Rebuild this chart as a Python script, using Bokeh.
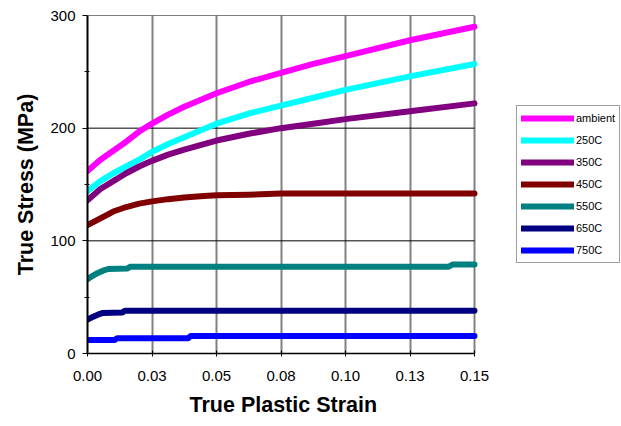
from bokeh.plotting import figure
from bokeh.models import Range1d, FixedTicker, Legend, LegendItem, Title
from bokeh.embed import file_html
from bokeh.resources import INLINE

# ---- data ----
x_ticks = [0.0, 0.025, 0.05, 0.075, 0.1, 0.125, 0.15]
x_tick_labels = ["0.00", "0.03", "0.05", "0.08", "0.10", "0.13", "0.15"]
y_ticks = [0, 100, 200, 300]
y_minor_ticks = [50, 150, 250]

strain_hi = [0.0, 0.005, 0.01, 0.015, 0.02, 0.025, 0.03125, 0.0375, 0.04375, 0.05, 0.0625, 0.075, 0.0875, 0.1, 0.125, 0.15]
stress_ambient = [162, 172, 180, 188, 197, 204, 212, 219, 225, 231, 241, 249, 257, 264, 278, 290]
stress_250 = [144, 153, 160, 166, 172, 179, 186, 192, 198, 204, 213, 220, 227, 234, 246, 257]
stress_350 = [136, 146, 153, 160, 166, 171, 176.5, 181, 185, 189, 195, 200, 204, 208, 215, 222]
stress_450 = [114, 120, 126, 130, 133, 135, 137, 138.5, 139.5, 140.5, 141, 142, 142, 142, 142, 142]

strain_550 = [0.0, 0.002, 0.004, 0.006, 0.008, 0.0155, 0.0165, 0.14, 0.1415, 0.15]
stress_550 = [66, 69, 71.5, 73.5, 75, 75.5, 77, 77, 79, 79]

strain_650 = [0.0, 0.002, 0.004, 0.006, 0.0135, 0.0145, 0.15]
stress_650 = [30, 32.5, 34.5, 36, 36.5, 38, 38]

strain_750 = [0.0, 0.0105, 0.0115, 0.039, 0.040, 0.15]
stress_750 = [12, 12, 13.5, 13.5, 15.5, 15.5]

series_labels = ["ambient", "250C", "350C", "450C", "550C", "650C", "750C"]
series_colors = ["#FF00FF", "#00FFFF", "#800080", "#800000", "#008080", "#000080", "#0000FF"]

series_x = [strain_hi, strain_hi, strain_hi, strain_hi, strain_550, strain_650, strain_750]
series_y = [stress_ambient, stress_250, stress_350, stress_450, stress_550, stress_650, stress_750]

x_label = "True Plastic Strain"
y_label = "True Stress (MPa)"

FONT = "Liberation Sans"

# layout: the frame extends to the right so the legend can sit beside the data area
FRAME_W = 533      # px, frame width
DATA_W = 387       # px, width occupied by the data range 0 .. 0.15
x_end = x_ticks[-1] * FRAME_W / DATA_W

p = figure(width=621, height=426, output_backend="svg", toolbar_location=None,
           x_range=Range1d(0, x_end), y_range=Range1d(0, 300),
           min_border_left=87, min_border_right=1, min_border_top=15, min_border_bottom=73)
p.outline_line_color = None
p.background_fill_color = "white"
p.border_fill_color = "white"

# horizontal gridlines, limited to the data area
p.segment(x0=x_ticks[0], x1=x_ticks[-1], y0=y_ticks, y1=y_ticks, line_color="black", line_width=1)

items = []
for xs, ys, lab, col in zip(series_x, series_y, series_labels, series_colors):
    r = p.line(xs, ys, line_color=col, line_width=6, line_cap="round", line_join="round")
    items.append(LegendItem(label=lab, renderers=[r]))

# axes
p.xaxis.ticker = FixedTicker(ticks=x_ticks)
p.xaxis.major_label_overrides = {t: l for t, l in zip(x_ticks, x_tick_labels)}
p.xaxis.bounds = (x_ticks[0], x_ticks[-1])
p.yaxis.ticker = FixedTicker(ticks=y_ticks, minor_ticks=y_minor_ticks)

for ax in (p.xaxis[0], p.yaxis[0]):
    ax.major_label_text_font = FONT
    ax.major_label_text_font_size = "15px"
    ax.major_label_text_color = "black"
    ax.axis_label_text_font = FONT
    ax.axis_label_text_font_size = "21.5px"
    ax.axis_label_text_font_style = "bold"
    ax.axis_label_text_color = "black"
    ax.axis_line_color = "black"
    ax.major_tick_line_color = "black"
    ax.minor_tick_line_color = "black"

p.yaxis.axis_label = y_label

p.xaxis.major_tick_in = 3
p.xaxis.major_tick_out = 3
p.xaxis.minor_tick_line_color = None
p.xaxis.major_label_standoff = 14
p.xaxis.axis_line_width = 1.5

p.yaxis.major_tick_in = 0
p.yaxis.major_tick_out = 5
p.yaxis.minor_tick_in = 2
p.yaxis.minor_tick_out = 3
p.yaxis.major_label_standoff = 7
p.yaxis.axis_label_standoff = 9
p.yaxis.axis_line_width = 2

# x-axis title centred under the data area (not under the extended frame)
xtitle = Title(text=x_label, align="left", offset=102, standoff=15,
               text_font=FONT, text_font_size="21.5px", text_font_style="bold",
               text_color="black")
p.add_layout(xtitle, "below")

# grids
p.xgrid.ticker = FixedTicker(ticks=x_ticks)
p.xgrid.grid_line_color = "#808080"
p.xgrid.grid_line_width = 2
p.ygrid.grid_line_color = None

legend = Legend(items=items, location=(429, 90), orientation="vertical")
legend.margin = 0
legend.padding = 4
legend.spacing = 6
legend.glyph_width = 53
legend.glyph_height = 16
legend.label_height = 16
legend.label_standoff = 2
legend.label_text_font = FONT
legend.label_text_font_size = "11px"
legend.label_text_color = "black"
legend.border_line_color = "#404040"
legend.border_line_width = 1
legend.background_fill_color = "white"
legend.background_fill_alpha = 1.0
p.add_layout(legend)

open("out.html", "w").write(file_html(p, INLINE))
